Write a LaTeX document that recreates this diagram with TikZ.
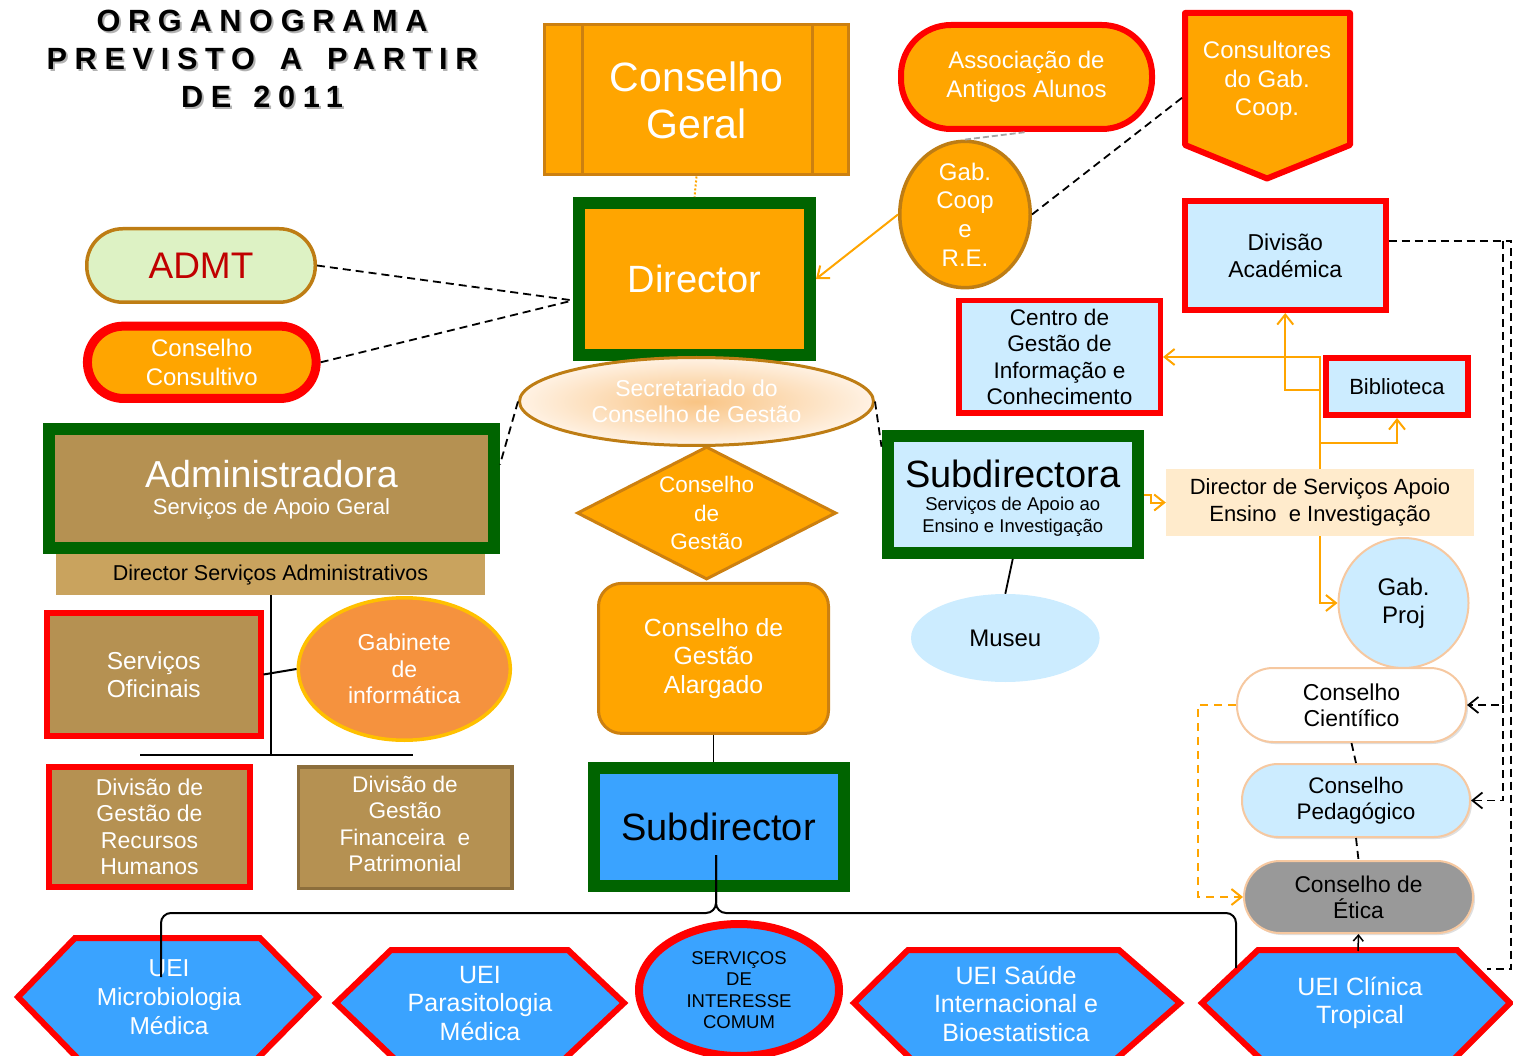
\documentclass[tikz,border=0pt]{standalone}
\usepackage{fontspec}
\setmainfont{Liberation Sans}
\newfontfamily\titlefont[LetterSpace=25]{Liberation Sans}
\usetikzlibrary{shapes.geometric,arrows.meta,shadows,calc}
\definecolor{orng}{RGB}{255,165,0}
\definecolor{brdor}{RGB}{204,128,16}
\definecolor{grn}{RGB}{0,100,0}
\definecolor{lblue}{RGB}{204,236,255}
\definecolor{blue1}{RGB}{58,163,255}
\definecolor{tan1}{RGB}{181,145,82}
\definecolor{tan2}{RGB}{201,163,94}
\definecolor{tanbrd}{RGB}{140,110,60}
\definecolor{gcbrd}{RGB}{190,125,20}
\definecolor{admtfill}{RGB}{221,242,196}
\definecolor{admttxt}{RGB}{192,0,0}
\definecolor{pchbrd}{RGB}{246,200,160}
\definecolor{pch}{RGB}{255,235,204}
\definecolor{gabor}{RGB}{245,146,62}
\definecolor{gold1}{RGB}{255,192,0}
\definecolor{secin}{RGB}{249,196,132}
\definecolor{secout}{RGB}{255,242,228}
\definecolor{gry}{RGB}{153,153,153}
\newcommand\myfs[2]{\fontsize{#1pt}{#2pt}\selectfont}
\newcommand\wsp{\hspace{25pt}}
\newcommand\wspb{\hspace{22pt}}
\begin{document}
\begin{tikzpicture}[x=1pt,y=-1pt,
  box/.style={rectangle,inner sep=0pt,align=center},
  txt/.style={inner sep=0pt,align=center},
  gbox/.style={box,draw=grn,line width=12pt},
  rbox/.style={box,draw=red,line width=6pt},
  pill/.style={box,draw=pchbrd,line width=2pt,rounded corners=36pt},
  oline/.style={draw=orng,line width=2pt},
  bdash/.style={draw=black,line width=1.8pt,dash pattern=on 8pt off 5pt},
  tip/.style={-{Straight Barb[length=10pt,width=16pt]}},
  shd/.style={drop shadow={shadow xshift=2pt,shadow yshift=-2pt,opacity=0.25}},
  hexa/.style={fill=blue1,draw=red,line width=6pt,line join=miter},
  ttl/.style={txt,anchor=base,font=\titlefont\bfseries\myfs{30.7}{38}},
]
\useasboundingbox (0,0) rectangle (1513,1056);
\clip (0,0) rectangle (1513,1056);

% ---------- title ----------
\node[ttl,text=black!30] (t1s) at (264,34) {ORGANOGRAMA};
\node[ttl,text=black!30] (t2s) at (264,72) {PREVISTO\wsp A\wsp PARTIR};
\node[ttl,text=black!30] (t3s) at (264,110) {DE\wspb 2011};
\node[ttl] (t1) at (262,32) {ORGANOGRAMA};
\node[ttl] (t2) at (262,70) {PREVISTO\wsp A\wsp PARTIR};
\node[ttl] (t3) at (262,108) {DE\wspb 2011};

% ---------- top centre ----------
\node[box,fill=orng,draw=brdor,line width=3pt,minimum width=304,minimum height=150,
      text=white,font=\myfs{41}{47}] (cgeral) at (696.5,100) {Conselho\\Geral};
\draw[brdor,line width=3pt] (582,23.5) -- (582,175);
\draw[brdor,line width=3pt] (812,23.5) -- (812,175);

\node[gbox,fill=orng,minimum width=231,minimum height=152,text=white,font=\myfs{38}{44}]
      (director) at (694.5,279) {Director};

\node[box,fill=admtfill,draw=gcbrd,line width=3.5pt,rounded corners=36pt,minimum width=228.5,
      minimum height=73.5,text=admttxt,font=\myfs{37}{42}] (admt) at (201,265.5) {ADMT};
\node[box,fill=orng,draw=red,line width=9pt,rounded corners=36pt,minimum width=228.7,
      minimum height=72.3,text=white,font=\myfs{24}{29}] (ccons) at (201.8,362.3) {Conselho\\Consultivo};

\node[box,fill=orng,draw=red,line width=6pt,rounded corners=50pt,minimum width=251,
      minimum height=104,text=white,font=\myfs{24}{29}] (assoc) at (1026.5,77) {Associação de\\Antigos Alunos};

\draw[fill=orng,draw=red,line width=6pt,line join=round]
  (1185,13) -- (1350,13) -- (1350,145) -- (1267,178.5) -- (1185,145) -- cycle;
\node[txt,text=white,font=\myfs{24}{28.5}] (consult) at (1267,81) {Consultores\\do Gab.\\Coop.};
\coordinate (consW) at (1183,97);

\node[ellipse,inner sep=0pt,fill=orng,draw=gcbrd,line width=3.5pt,minimum width=130.5,
      minimum height=133.5,text=white,align=center,font=\myfs{24}{28.7}] (gabcoop) at (965,214.5) {Gab.\\Coop\\e\\R.E.};

% ---------- right column ----------
\node[rbox,fill=lblue,shd,minimum width=200.5,minimum height=109,font=\myfs{23}{27}]
      (divacad) at (1285.25,255.5) {Divisão\\Académica};
\node[rbox,fill=lblue,shd,line width=5.5pt,minimum width=201.5,minimum height=112.5,font=\myfs{22.6}{26.3}]
      (centro) at (1059.5,357) {Centro de\\Gestão de\\Informação e\\Conhecimento};
\node[rbox,fill=lblue,shd,minimum width=142,minimum height=57,font=\myfs{22}{26}]
      (biblio) at (1397,386.5) {Biblioteca};
\node[box,fill=pch,minimum width=308,minimum height=67,font=\myfs{22}{27}]
      (dsaei) at (1320,502.5) {Director de Serviços Apoio\\Ensino~ e Investigação};
\node[circle,inner sep=0pt,fill=lblue,draw=pchbrd,line width=2pt,minimum size=130,align=center,
      font=\myfs{24}{28}] (gabproj) at (1403.5,603) {Gab.\\Proj};
\node[pill,fill=white,shd,minimum width=229,minimum height=74,font=\myfs{23}{26}]
      (ccient) at (1351.5,705) {Conselho\\Científico};
\node[pill,fill=lblue,shd,minimum width=228,minimum height=73,font=\myfs{22.5}{26}]
      (cpedag) at (1356,800.5) {Conselho\\Pedagógico};
\node[pill,fill=gry,shd,minimum width=229,minimum height=72,font=\myfs{22.8}{26}]
      (cetica) at (1358.5,897) {Conselho de\\Ética};

\node[gbox,fill=lblue,shd,minimum width=250.5,minimum height=117] (subdra) at (1012.75,494.5) {};
\node[txt,font=\myfs{38}{44}] (subdrat) at (1012.75,474) {Subdirectora};
\node[txt,font=\myfs{18.5}{21.5}] (subdras) at (1012.75,517) {Serviços de Apoio ao\\Ensino e Investigação};

\node[ellipse,inner sep=0pt,fill=lblue,minimum width=188.6,minimum height=88,font=\myfs{24}{28}]
      (museu) at (1005.3,638) {Museu};

% ---------- centre column ----------
\node[diamond,aspect=1.95,inner sep=0pt,minimum width=259,minimum height=133,fill=orng,draw=brdor,
      line width=3pt,text=white,align=center,font=\myfs{22.5}{28.5}] (cdg) at (706.6,513) {Conselho\\de\\Gestão};
\node[ellipse,inner sep=0pt,draw=gcbrd,line width=3pt,inner color=secin,outer color=secout,
      minimum width=354,minimum height=88,text=white,align=center,font=\myfs{23}{26}]
      (secret) at (696.5,401.5) {Secretariado do\\Conselho de Gestão};
\node[box,fill=orng,draw=brdor,line width=3pt,rounded corners=23pt,minimum width=230,minimum height=150,
      text=white,font=\myfs{24.8}{28.5}] (alarg) at (713.5,658.4) {Conselho de\\Gestão\\Alargado};
\node[gbox,fill=blue1,shd,minimum width=250,minimum height=118,font=\myfs{38}{44}]
      (subdir) at (718.6,826.7) {Subdirector};

% ---------- left column ----------
\node[gbox,fill=tan1,minimum width=445,minimum height=119] (admin) at (271.5,488.5) {};
\node[txt,text=white,font=\myfs{37.6}{44}] (admint) at (271.5,474) {Administradora};
\node[txt,text=white,font=\myfs{22}{26}] (admins) at (271.5,509) {Serviços de Apoio Geral};
\node[box,fill=tan2,minimum width=429,minimum height=41,font=\myfs{21.5}{25}]
      (dsadm) at (270.5,574.5) {Director Serviços Administrativos};
\node[rbox,fill=tan1,minimum width=213.5,minimum height=123,text=white,font=\myfs{24.5}{28}]
      (servof) at (153.75,674.5) {Serviços\\Oficinais};
\node[ellipse,inner sep=0pt,fill=gabor,draw=gold1,line width=3.5pt,minimum width=212,minimum height=142.5,
      text=white,align=center,font=\myfs{23}{26.5}] (gabinf) at (404.3,669) {Gabinete\\de\\informática};
\node[rbox,fill=tan1,minimum width=201,minimum height=120,text=white,font=\myfs{23}{26.5}]
      (divrh) at (149.5,827) {Divisão de\\Gestão de\\Recursos\\Humanos};
\node[box,fill=tan1,draw=tanbrd,line width=3.5pt,minimum width=213.5,minimum height=121.5] (divfin) at (405,827.5) {};
\node[txt,text=white,font=\myfs{22.6}{26.5}] (divfint) at (405,824) {Divisão de\\Gestão\\Financeira~ e\\Patrimonial};

% ---------- bottom row ----------
\draw[hexa] (18,997) -- (75,938) -- (260,938) -- (318,997) -- (250,1066) -- (85,1066) -- cycle;
\draw[hexa] (336,1003) -- (391,950) -- (568,950) -- (624,1003) -- (557,1066) -- (402,1066) -- cycle;
\draw[hexa] (854,1003) -- (908,950) -- (1119,950) -- (1180,1003) -- (1108,1066) -- (918,1066) -- cycle;
\draw[hexa] (1202,1003) -- (1258,950) -- (1457,950) -- (1510,1003) -- (1447,1066) -- (1268,1066) -- cycle;
\node[txt,text=white,font=\myfs{24.5}{29}] (uei1) at (169,997) {UEI\\Microbiologia\\Médica};
\node[txt,text=white,font=\myfs{25}{28.5}] (uei2) at (480,1003.5) {UEI\\Parasitologia\\Médica};
\node[txt,text=white,font=\myfs{25}{28.5}] (uei4) at (1016,1003.5) {UEI Saúde\\Internacional e\\Bioestatistica};
\node[txt,text=white,font=\myfs{25}{28}] (uei5) at (1360,1003) {UEI Clínica\\Tropical};
\node[ellipse,inner sep=0pt,fill=blue1,draw=red,line width=8pt,minimum width=200,minimum height=132,
      align=center,font=\myfs{18.5}{21.5}] (sic) at (739,990) {SERVIÇOS\\DE\\INTERESSE\\COMUM};

% ---------- connectors ----------
\draw[draw=orng,line width=2pt,dotted] (cgeral.south) -- (director.north);
\draw[bdash] (admt.east) -- (director.190);
\draw[bdash] (ccons.east) -- (director.190);
\draw[oline,tip] (gabcoop.west) -- (director.east);
\draw[bdash] (gabcoop.east) -- (consW);
\draw[draw=gray!70,line width=1.8pt,dash pattern=on 6pt off 3pt] (gabcoop.north) -- (assoc.south);
\draw[bdash] (secret.west) -- (admin.6);
\draw[bdash] (secret.east) -- (subdra.160);

\coordinate (j1) at (1320,390);
\coordinate (j2) at (1320,443);
\draw[oline,tip] (dsaei.north) -- (dsaei.north |- centro.east) -- (centro.east);
\draw[oline,tip] (j1) -| (divacad.south);
\draw[oline,tip] (j2) -| (biblio.south);
\draw[oline,tip] (dsaei.south) |- (gabproj.west);
\draw[oline,tip] (subdra.east) -- ++(7,0) |- (dsaei.west);

\coordinate (dae) at ([yshift=14.5pt]divacad.east);
\coordinate (clinNE) at (1487,969);
\draw[bdash] (dae) -- (1511,241) -- (1511,969) -- (clinNE);
\draw[bdash,tip] (1503,241) |- (ccient.east);
\draw[bdash,tip] (1503,705) |- (cpedag.east);
\draw[bdash] (ccient.south) -- (cpedag.north);
\draw[bdash] (cpedag.south) -- (cetica.north);
\draw[draw=orng,line width=2pt,dash pattern=on 8pt off 6pt,tip] (ccient.west) -- ++(-38,0) |- (cetica.west);
\coordinate (clintop) at (1358,951);
\draw[line width=1.5pt,-{Straight Barb[length=6pt,width=10pt]}] (clintop) -- (cetica.south);

\coordinate (hbL) at (140,755);
\coordinate (hbR) at (413,755);
\draw[line width=2pt] (dsadm.south) -- (dsadm.south |- hbL);
\draw[line width=2pt] (hbL) -- (hbR);
\draw[line width=2pt] (servof.east) -- (gabinf.west);

\draw[line width=1.8pt] (alarg.south) -- (alarg.south |- subdir.north);
\draw[line width=1.8pt] (subdra.south) -- (museu.north);

\coordinate (sdtap) at (716,855);
\coordinate (ueiL) at (161,977);
\coordinate (ueiR) at (1236,968);
\draw[line width=2pt,rounded corners=10pt] (sdtap) -- (716,913) -| (ueiL);
\draw[line width=2pt,rounded corners=10pt] (sdtap) -- (716,913) -| (ueiR);
\end{tikzpicture}
\end{document}
